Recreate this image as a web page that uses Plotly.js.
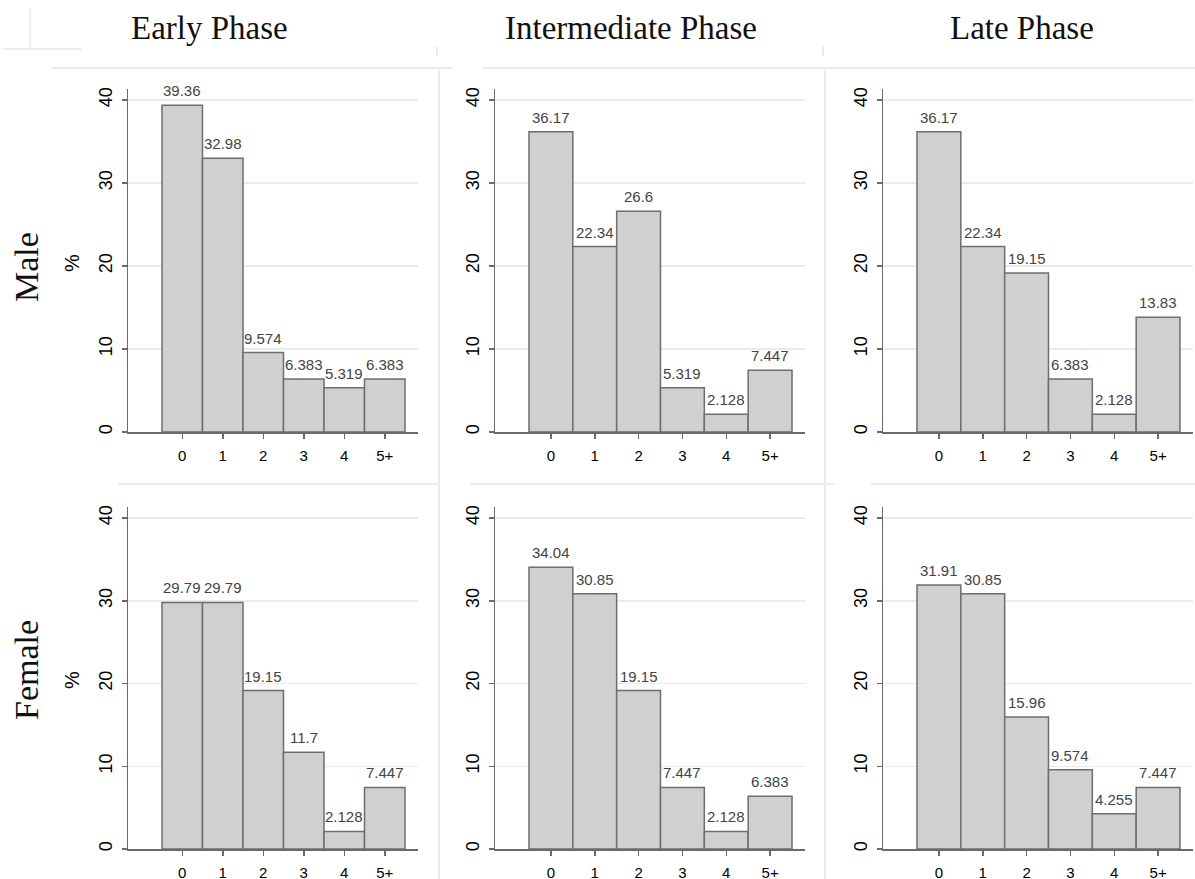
<!DOCTYPE html>
<html>
<head>
<meta charset="utf-8">
<script src="https://cdn.plot.ly/plotly-3.0.1.min.js"></script>
<style>html,body{margin:0;padding:0;background:#fff;}#chart{width:1195px;height:879px;}</style>
</head>
<body>
<div id="chart"></div>
<script>
// ---- data ----
var categories = ["0", "1", "2", "3", "4", "5+"];
var phaseTitles = ["Early Phase", "Intermediate Phase", "Late Phase"];
var rowTitles = ["Male", "Female"];
var maleEarly = [39.36, 32.98, 9.574, 6.383, 5.319, 6.383];
var maleIntermediate = [36.17, 22.34, 26.6, 5.319, 2.128, 7.447];
var maleLate = [36.17, 22.34, 19.15, 6.383, 2.128, 13.83];
var femaleEarly = [29.79, 29.79, 19.15, 11.7, 2.128, 7.447];
var femaleIntermediate = [34.04, 30.85, 19.15, 7.447, 2.128, 6.383];
var femaleLate = [31.91, 30.85, 15.96, 9.574, 4.255, 7.447];
var yTicks = [0, 10, 20, 30, 40];

var panels = [maleEarly, maleIntermediate, maleLate, femaleEarly, femaleIntermediate, femaleLate];

// ---- layout geometry (pixels) ----
var W = 1195, H = 879;
var colPx = [[128, 418], [495, 805], [883, 1193]];
var rowPx = [[89, 432], [507, 849]];
function px2x(p) { return p / W; }
function px2y(p) { return 1 - p / H; }
function fmt(v) { return String(parseFloat(v.toPrecision(4))); }

var SANS = "Liberation Sans, Arial, sans-serif";
var SERIF = "Liberation Serif, Times New Roman, serif";
var axisCol = "#6a6a6a";

var data = [];
var layout = {
  width: W, height: H,
  margin: {l: 0, r: 0, t: 0, b: 0},
  paper_bgcolor: "#fff", plot_bgcolor: "#fff",
  showlegend: false,
  bargap: 0,
  annotations: [],
  shapes: []
};

panels.forEach(function (vals, i) {
  var n = i + 1;
  var r = Math.floor(i / 3), c = i % 3;
  var xs = n === 1 ? "" : String(n);
  var cp = colPx[c], rp = rowPx[r];
  var plotW = cp[1] - cp[0];
  var bw = (plotW - 47) / 6;
  data.push({
    type: "bar",
    x: categories,
    y: vals,
    xaxis: "x" + xs,
    yaxis: "y" + xs,
    marker: {color: "#d0d0d0", line: {color: "#6e6e6e", width: 1.5}},
    hoverinfo: "x+y"
  });
  layout["xaxis" + xs] = {
    domain: [px2x(cp[0]), px2x(cp[1])],
    anchor: "y" + xs,
    type: "category",
    categoryorder: "array",
    categoryarray: categories,
    range: [-0.5 - 34 / bw, 5.5 + 13 / bw],
    showline: true, linecolor: axisCol, linewidth: 1.5,
    ticks: "outside", ticklen: 5, tickwidth: 1.5, tickcolor: axisCol,
    ticklabelstandoff: 4,
    showgrid: false, zeroline: false,
    tickfont: {family: SANS, size: 15, color: "#000"},
    fixedrange: true
  };
  layout["yaxis" + xs] = {
    domain: [px2y(rp[1]), px2y(rp[0])],
    anchor: "x" + xs,
    range: [0, 41.33],
    tickvals: yTicks,
    tickangle: -90,
    showline: true, linecolor: axisCol, linewidth: 1.5,
    ticks: "outside", ticklen: 5, tickwidth: 1.5, tickcolor: axisCol,
    ticklabelstandoff: 2,
    showgrid: true, gridcolor: "#ebebeb", gridwidth: 1.5,
    zeroline: false,
    tickfont: {family: SANS, size: 18, color: "#000"},
    fixedrange: true
  };
  vals.forEach(function (v, j) {
    layout.annotations.push({
      xref: "x" + xs, yref: "y" + xs,
      x: categories[j], y: v,
      text: fmt(v),
      showarrow: false,
      yanchor: "bottom",
      yshift: 4,
      font: {family: SANS, size: 15, color: "#444"}
    });
  });
});

// column titles
var titleCenters = [209, 631, 1022];
phaseTitles.forEach(function (t, c) {
  layout.annotations.push({
    xref: "paper", yref: "paper",
    x: px2x(titleCenters[c]), y: px2y(28),
    text: t, showarrow: false,
    xanchor: "center", yanchor: "middle",
    font: {family: SERIF, size: 33, color: "#111"}
  });
});

// row titles and "%" axis titles
var rowCenters = [267, 670];
var pctCenters = [263, 680];
rowTitles.forEach(function (t, r) {
  layout.annotations.push({
    xref: "paper", yref: "paper",
    x: px2x(26), y: px2y(rowCenters[r]),
    text: t, showarrow: false, textangle: -90,
    xanchor: "center", yanchor: "middle",
    font: {family: SERIF, size: 34, color: "#111"}
  });
  layout.annotations.push({
    xref: "paper", yref: "paper",
    x: px2x(72), y: px2y(pctCenters[r]),
    text: "%", showarrow: false, textangle: -90,
    xanchor: "center", yanchor: "middle",
    font: {family: SANS, size: 20, color: "#000"}
  });
});

// faint panel frame lines
function seg(x0, y0, x1, y1) {
  layout.shapes.push({
    type: "line", xref: "paper", yref: "paper",
    x0: px2x(x0), y0: px2y(y0), x1: px2x(x1), y1: px2y(y1),
    line: {color: "#ececec", width: 2}, layer: "below"
  });
}
seg(30, 8, 30, 50);
seg(4, 49, 81, 49);
seg(52, 68, 452, 68);
seg(483, 68, 1195, 68);
seg(118, 484, 440, 484);
seg(470, 484, 822, 484);
seg(800, 484, 835, 484);
seg(871, 484, 1195, 484);
seg(439, 68, 439, 879);
seg(825, 68, 825, 879);
seg(437, 46, 437, 56);
seg(823, 46, 823, 56);

Plotly.newPlot("chart", data, layout, {displayModeBar: false, staticPlot: true});
</script>
</body>
</html>
